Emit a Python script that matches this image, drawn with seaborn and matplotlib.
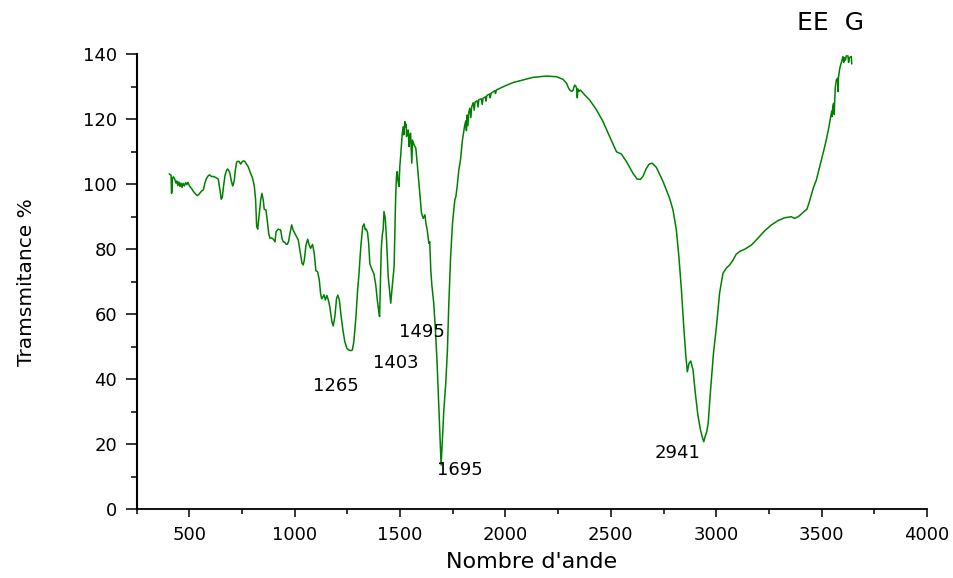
import matplotlib
matplotlib.use("Agg")
import matplotlib.pyplot as plt
from matplotlib.ticker import AutoMinorLocator
import seaborn as sns
import pandas as pd

# FTIR spectrum: wavenumber (cm-1) and transmittance (%)
wavenumber = [
    405, 410, 414, 416, 418, 420, 425, 431, 437, 441, 446, 451, 456, 461, 466, 471,
    477, 483, 489, 494, 500, 507, 513, 520, 530, 538, 545, 552, 560, 567, 575, 582,
    590, 597, 605, 615, 625, 638, 645, 652, 657, 663, 670, 678, 682, 688, 693, 700,
    706, 710, 714, 719, 725, 731, 737, 744, 752, 758, 764, 772, 780, 791, 801, 809,
    815, 820, 825, 831, 839, 845, 851, 856, 864, 870, 877, 883, 891, 899, 907, 912,
    922, 934, 940, 946, 953, 959, 965, 971, 978, 986, 993, 1005, 1017, 1025, 1030,
    1035, 1041, 1046, 1054, 1062, 1069, 1076, 1085, 1093, 1101, 1109, 1117, 1123,
    1128, 1133, 1139, 1146, 1153, 1160, 1167, 1177, 1183, 1191, 1199, 1205, 1212,
    1220, 1229, 1238, 1248, 1257, 1265, 1274, 1281, 1291, 1299, 1305, 1314, 1323,
    1329, 1335, 1340, 1346, 1351, 1357, 1362, 1368, 1376, 1385, 1392, 1398, 1403,
    1407, 1411, 1416, 1420, 1424, 1430, 1436, 1444, 1452, 1456, 1463, 1472, 1479,
    1483, 1487, 1490, 1495, 1499, 1504, 1510, 1515, 1518, 1523, 1526, 1529, 1531,
    1535, 1539, 1543, 1547, 1550, 1556, 1559, 1567, 1575, 1583, 1591, 1602, 1610,
    1618, 1623, 1629, 1637, 1641, 1646, 1651, 1660, 1668, 1676, 1683, 1690, 1695,
    1700, 1708, 1717, 1725, 1731, 1740, 1749, 1760, 1765, 1771, 1779, 1787, 1796,
    1807, 1812, 1815, 1818, 1822, 1826, 1831, 1836, 1840, 1847, 1852, 1856, 1866,
    1870, 1874, 1886, 1890, 1894, 1905, 1908, 1912, 1925, 1928, 1932, 1950, 1953,
    1957, 1989, 2036, 2084, 2131, 2195, 2242, 2273, 2290, 2300, 2308, 2316, 2321,
    2328, 2334, 2338, 2341, 2344, 2350, 2356, 2364, 2376, 2400, 2432, 2463, 2495,
    2527, 2550, 2574, 2605, 2625, 2640, 2653, 2668, 2682, 2696, 2716, 2748, 2779,
    2795, 2811, 2823, 2835, 2846, 2855, 2863, 2871, 2879, 2890, 2901, 2913, 2925,
    2934, 2941, 2947, 2955, 2962, 2972, 2987, 3001, 3016, 3032, 3048, 3064, 3080,
    3095, 3111, 3135, 3167, 3198, 3230, 3262, 3293, 3325, 3356, 3372, 3388, 3400,
    3411, 3430, 3440, 3451, 3463, 3475, 3487, 3499, 3511, 3522, 3535, 3543, 3548,
    3550, 3553, 3557, 3560, 3562, 3565, 3570, 3576, 3578, 3580, 3585, 3590, 3595,
    3601, 3605, 3608, 3613, 3617, 3625, 3628, 3632, 3641, 3643,
]
transmittance = [
    103.2, 103.0, 102.8, 97.2, 97.6, 101.8, 102.3, 101.6, 100.4, 101.0, 99.6, 100.7,
    99.3, 100.4, 99.0, 100.3, 99.5, 100.5, 99.9, 100.6, 99.6, 99.0, 98.5, 97.8, 97.0,
    96.5, 96.8, 97.4, 98.0, 98.3, 100.5, 101.8, 102.6, 102.9, 102.4, 102.4, 102.1,
    101.6, 98.5, 95.4, 96.0, 99.5, 102.8, 104.4, 104.7, 104.2, 103.4, 101.0, 99.5,
    100.2, 101.3, 104.5, 106.8, 107.1, 107.0, 106.2, 107.0, 107.2, 107.0, 106.2,
    105.4, 103.4, 101.8, 99.3, 95.2, 87.0, 86.2, 90.0, 95.2, 97.2, 95.2, 92.3, 92.1,
    89.0, 84.9, 83.4, 83.5, 83.1, 82.3, 85.4, 86.2, 85.9, 83.4, 82.3, 82.2, 81.6,
    81.5, 82.3, 84.9, 87.5, 85.9, 84.4, 82.9, 79.8, 77.7, 75.7, 75.2, 76.7, 81.3,
    83.1, 81.3, 80.3, 81.5, 78.8, 73.4, 73.1, 70.6, 66.5, 64.8, 65.2, 66.0, 64.4,
    65.8, 64.4, 62.3, 57.7, 56.4, 59.3, 64.9, 65.9, 64.4, 59.8, 55.2, 51.6, 49.5,
    49.0, 48.8, 49.0, 51.6, 59.3, 67.5, 72.1, 80.8, 87.0, 87.8, 86.0, 86.2, 85.2,
    82.0, 75.5, 74.6, 73.6, 72.5, 69.0, 64.5, 61.5, 59.3, 70.0, 80.0, 84.5, 86.0,
    91.6, 89.5, 83.0, 71.6, 65.9, 63.4, 68.5, 74.6, 95.2, 102.3, 103.9, 101.3, 99.3,
    105.4, 109.5, 115.2, 117.7, 115.2, 119.3, 117.5, 118.5, 114.7, 116.5, 116.7,
    111.6, 115.0, 115.7, 106.5, 113.6, 112.1, 111.1, 105.4, 99.3, 91.1, 89.5, 90.6,
    88.0, 85.9, 81.8, 82.3, 73.6, 69.0, 63.4, 55.2, 44.9, 33.6, 22.5, 13.6, 20.3,
    30.6, 38.8, 49.0, 62.3, 77.7, 88.0, 95.2, 96.2, 99.3, 104.4, 107.5, 113.6, 118.2,
    119.5, 116.5, 121.3, 118.0, 122.0, 123.4, 120.5, 123.8, 125.1, 122.8, 125.3,
    125.7, 123.8, 126.0, 126.3, 124.6, 126.5, 126.9, 125.6, 127.3, 127.8, 126.6,
    128.0, 128.8, 127.9, 129.0, 130.0, 131.3, 132.1, 132.9, 133.3, 133.1, 132.3,
    131.1, 129.5, 128.8, 128.6, 128.9, 130.5, 130.2, 129.5, 126.6, 129.3, 128.6,
    129.0, 128.4, 127.5, 125.9, 122.9, 119.3, 114.6, 110.0, 109.3, 107.0, 103.4,
    101.6, 101.5, 102.5, 104.8, 106.2, 106.5, 105.2, 100.8, 95.7, 92.1, 85.9, 77.7,
    67.5, 56.2, 48.0, 42.3, 44.9, 45.6, 42.9, 35.7, 29.0, 24.5, 22.2, 20.8, 22.3,
    23.8, 26.5, 35.7, 48.0, 56.2, 66.5, 72.6, 74.2, 75.2, 76.7, 78.5, 79.3, 80.0,
    81.3, 83.4, 85.7, 87.5, 88.8, 89.7, 90.0, 89.5, 90.0, 90.6, 91.3, 92.3, 94.2,
    96.7, 99.3, 101.3, 104.4, 107.5, 110.6, 113.6, 117.7, 120.8, 122.5, 120.8, 124.0,
    124.9, 121.5, 125.5, 129.8, 132.1, 132.6, 128.5, 132.8, 135.2, 136.7, 137.7,
    139.3, 137.5, 139.0, 138.2, 139.5, 139.5, 137.5, 139.0, 139.3, 137.0,
]

# Annotated absorption bands (cm-1)
band_labels = [1265, 1403, 1495, 1695, 2941]
sample_name = "EE  G"

x_ticks = [500, 1000, 1500, 2000, 2500, 3000, 3500, 4000]
y_ticks = [0, 20, 40, 60, 80, 100, 120, 140]

df = pd.DataFrame({"wavenumber": wavenumber, "transmittance": transmittance})

sns.set_style("ticks")
plt.rcParams["font.family"] = ["DejaVu Sans"]

fig = plt.figure(figsize=(9.54, 5.78), dpi=100)
ax = fig.add_axes([0.1431, 0.1189, 0.8286, 0.7872])

sns.lineplot(data=df, x="wavenumber", y="transmittance", ax=ax,
             color="#008000", linewidth=1.1, estimator=None, sort=False)

ax.set_xlim(250, 4000)
ax.set_ylim(0, 140)
ax.set_xticks(x_ticks)
ax.set_yticks(y_ticks)
ax.xaxis.set_minor_locator(AutoMinorLocator(2))
ax.yaxis.set_minor_locator(AutoMinorLocator(2))

sns.despine(ax=ax)
for side in ("left", "bottom"):
    ax.spines[side].set_color("black")
ax.spines["left"].set_linewidth(1.5)
ax.spines["bottom"].set_linewidth(1.3)

ax.tick_params(axis="both", which="both", direction="out", colors="black",
               width=1.1, labelsize=13, pad=6)
ax.tick_params(axis="y", which="major", length=8)
ax.tick_params(axis="y", which="minor", length=4)
ax.tick_params(axis="x", which="major", length=6)
ax.tick_params(axis="x", which="minor", length=3.6)

ax.set_xlabel("Nombre d'ande", fontsize=16, labelpad=6, color="black")
ax.set_ylabel("Tramsmitance %", fontsize=14.5, labelpad=34, color="black")

# band labels: (horizontal shift in cm-1, text height in %T) for each band
label_place = {1265: (-67, 37.8), 1403: (76, 44.9), 1495: (111, 54.6),
               1695: (89, 12.2), 2941: (-124, 17.3)}
for band in band_labels:
    dx, ty = label_place[band]
    ax.text(band + dx, ty, str(band), fontsize=13,
            ha="center", va="center", color="black")

ax.text(3544, 149.7, sample_name, fontsize=18, ha="center", va="center",
        color="black", clip_on=False)

fig.savefig("out.png", dpi=100)
